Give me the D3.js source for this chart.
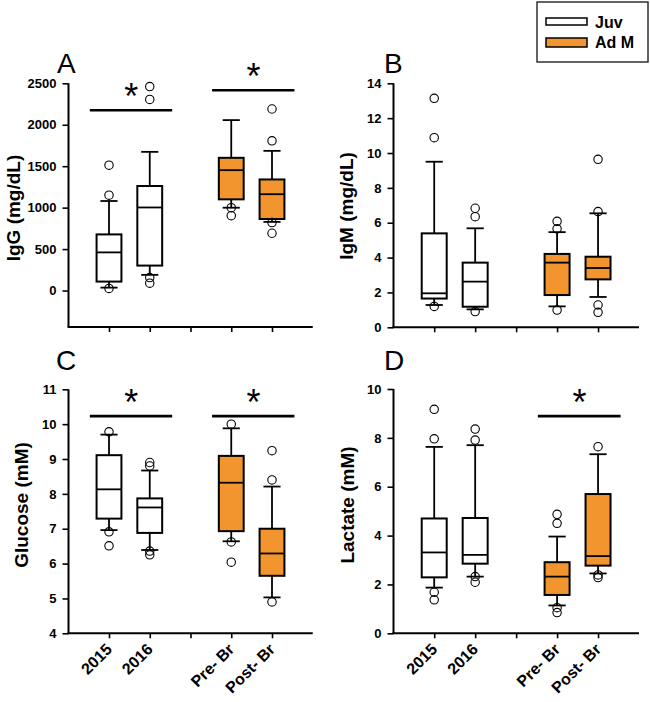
<!DOCTYPE html>
<html>
<head>
<meta charset="utf-8">
<script src="https://cdn.jsdelivr.net/npm/d3@7/dist/d3.min.js"></script>
<style>
  html, body { margin: 0; padding: 0; background: #fff; }
  svg { display: block; font-family: Arial, "Liberation Sans", sans-serif; }
</style>
</head>
<body>
<svg id="chart" width="650" height="702"></svg>
<script>
// ---------- data ----------
const categories = ["2015", "2016", "Pre- Br", "Post- Br"];
const positions = [1, 2, 4, 5];
const groups = ["Juv", "Juv", "Ad M", "Ad M"];
const legendLabels = ["Juv", "Ad M"];

// IgG (mg/dL)
const iggQ1 = [108, 301, 1100, 863];
const iggMed = [460, 1002, 1452, 1162];
const iggQ3 = [677, 1261, 1601, 1340];
const iggLo = [35, 189, 999, 828];
const iggHi = [1080, 1673, 2056, 1685];
const iggOut = [[1512, 1150, 25], [2460, 2306, 156, 89], [999, 903], [2190, 1806, 820, 691]];
const iggTicks = [0, 500, 1000, 1500, 2000, 2500];

// IgM (mg/dL)
const igmQ1 = [1.65, 1.18, 1.85, 2.75];
const igmMed = [1.95, 2.62, 3.71, 3.40];
const igmQ3 = [5.39, 3.71, 4.21, 4.05];
const igmLo = [1.28, 1.03, 1.20, 1.74];
const igmHi = [9.5, 5.68, 5.46, 6.54];
const igmOut = [[13.14, 10.88, 1.2], [6.83, 6.35, 0.9], [6.08, 5.65, 0.99], [9.64, 6.64, 1.28, 0.86]];
const igmTicks = [0, 2, 4, 6, 8, 10, 12, 14];

// Glucose (mM)
const gluQ1 = [7.29, 6.88, 6.93, 5.65];
const gluMed = [8.13, 7.61, 8.32, 6.29];
const gluQ3 = [9.11, 7.87, 9.09, 7.0];
const gluLo = [6.96, 6.39, 6.64, 5.03];
const gluHi = [9.70, 8.67, 9.88, 8.21];
const gluOut = [[9.78, 6.91, 6.51], [8.90, 8.80, 6.36, 6.25], [10.0, 6.62, 6.04], [9.24, 8.40, 4.90]];
const gluTicks = [4, 5, 6, 7, 8, 9, 10, 11];

// Lactate (mM)
const lacQ1 = [2.29, 2.85, 1.57, 2.77];
const lacMed = [3.31, 3.21, 2.32, 3.16];
const lacQ3 = [4.70, 4.72, 2.91, 5.70];
const lacLo = [1.87, 2.32, 1.14, 2.45];
const lacHi = [7.63, 7.70, 3.96, 7.33];
const lacOut = [[9.17, 7.96, 1.68, 1.37], [8.36, 7.91, 2.32, 2.09], [4.87, 4.50, 1.05, 0.85], [7.64, 2.39, 2.28]];
const lacTicks = [0, 2, 4, 6, 8, 10];

// significance bars: [from position, to position, level in data units]
const iggSig = [[1, 2, 2175], [4, 5, 2416]];
const igmSig = [];
const gluSig = [[1, 2, 10.23], [4, 5, 10.23]];
const lacSig = [[4, 5, 8.89]];

// ---------- drawing ----------
const ORANGE = "#F2952F";
const colorOf = d3.scaleOrdinal().domain(legendLabels).range(["#ffffff", ORANGE]);
const svg = d3.select("#chart");

const panels = [
  { letter: "A", title: "IgG (mg/dL)", q1: iggQ1, med: iggMed, q3: iggQ3, lo: iggLo, hi: iggHi, out: iggOut,
    ticks: iggTicks, domain: [-440, 2500], sig: iggSig, showX: false,
    x0: 68.5, x1: 312.75, yTop: 83.3, yBot: 327, labelX: 20, labelY: 208, letterX: 57, letterY: 73 },
  { letter: "B", title: "IgM (mg/dL)", q1: igmQ1, med: igmMed, q3: igmQ3, lo: igmLo, hi: igmHi, out: igmOut,
    ticks: igmTicks, domain: [0, 14], sig: igmSig, showX: false,
    x0: 393.5, x1: 639, yTop: 83.3, yBot: 327.3, labelX: 353, labelY: 206, letterX: 384, letterY: 73 },
  { letter: "C", title: "Glucose (mM)", q1: gluQ1, med: gluMed, q3: gluQ3, lo: gluLo, hi: gluHi, out: gluOut,
    ticks: gluTicks, domain: [4, 11], sig: gluSig, showX: true,
    x0: 68.5, x1: 312.75, yTop: 389.3, yBot: 633.3, labelX: 28, labelY: 505, letterX: 56, letterY: 370 },
  { letter: "D", title: "Lactate (mM)", q1: lacQ1, med: lacMed, q3: lacQ3, lo: lacLo, hi: lacHi, out: lacOut,
    ticks: lacTicks, domain: [0, 10], sig: lacSig, showX: true,
    x0: 393.5, x1: 639, yTop: 389, yBot: 633.3, labelX: 354, labelY: 505, letterX: 384, letterY: 370 }
];

panels.forEach(p => {
  const g = svg.append("g");
  // x scale: linear over slot positions 0..6
  const xs = d3.scaleLinear().domain([0, 6]).range([p.x0 - 0.25, p.x1]);
  const ys = d3.scaleLinear().domain(p.domain).range([p.yBot, p.yTop]);
  const unit = xs(1) - xs(0);
  const boxW = 0.61 * unit, capW = 0.42 * unit;

  // axes
  const yAxis = d3.axisLeft(ys).tickValues(p.ticks).tickFormat(d3.format("d"))
    .tickSize(6).tickSizeOuter(0).tickPadding(6);
  const ya = g.append("g").attr("transform", `translate(${p.x0},0)`).call(yAxis);
  ya.select(".domain").attr("stroke", "#000").attr("stroke-width", 2).attr("d", `M0,${p.yTop}V${p.yBot}`);
  ya.selectAll(".tick line").attr("stroke", "#000").attr("stroke-width", 1.6);
  ya.selectAll(".tick text").attr("font-size", 13).attr("font-weight", "bold").attr("fill", "#000")
    .attr("font-family", "Arial, 'Liberation Sans', sans-serif");

  const xAxis = d3.axisBottom(xs).tickValues([1, 2, 3, 4, 5]).tickSize(5).tickSizeOuter(0)
    .tickFormat(() => "");
  const xa = g.append("g").attr("transform", `translate(0,${p.yBot})`).call(xAxis);
  xa.select(".domain").attr("stroke", "#000").attr("stroke-width", 2).attr("d", `M${p.x0 - 1},0H${p.x1}`);
  xa.selectAll(".tick line").attr("stroke", "#000").attr("stroke-width", 1.6);

  if (p.showX) {
    g.selectAll("text.xlab").data(categories).join("text")
      .attr("class", "xlab")
      .attr("transform", (d, i) => `translate(${xs(positions[i]) + 4},${p.yBot + 17}) rotate(-45)`)
      .attr("text-anchor", "end")
      .attr("font-size", 16).attr("font-weight", "bold")
      .text(d => d);
  }

  // axis title
  g.append("text")
    .attr("transform", `translate(${p.labelX},${p.labelY}) rotate(-90)`)
    .attr("text-anchor", "middle")
    .attr("font-size", 19).attr("font-weight", "bold")
    .text(p.title);

  // panel letter
  g.append("text").attr("x", p.letterX).attr("y", p.letterY)
    .attr("font-size", 28).text(p.letter);

  // boxes
  const rows = categories.map((c, i) => ({
    c, pos: positions[i], grp: groups[i], q1: p.q1[i], med: p.med[i], q3: p.q3[i],
    lo: p.lo[i], hi: p.hi[i], out: p.out[i]
  }));
  const bg = g.selectAll("g.box").data(rows).join("g").attr("class", "box");
  // whiskers
  bg.append("line").attr("x1", d => xs(d.pos)).attr("x2", d => xs(d.pos))
    .attr("y1", d => ys(d.q3)).attr("y2", d => ys(d.hi)).attr("stroke", "#000").attr("stroke-width", 1.8);
  bg.append("line").attr("x1", d => xs(d.pos)).attr("x2", d => xs(d.pos))
    .attr("y1", d => ys(d.q1)).attr("y2", d => ys(d.lo)).attr("stroke", "#000").attr("stroke-width", 1.8);
  bg.append("line").attr("x1", d => xs(d.pos) - capW / 2).attr("x2", d => xs(d.pos) + capW / 2)
    .attr("y1", d => ys(d.hi)).attr("y2", d => ys(d.hi)).attr("stroke", "#000").attr("stroke-width", 1.8);
  bg.append("line").attr("x1", d => xs(d.pos) - capW / 2).attr("x2", d => xs(d.pos) + capW / 2)
    .attr("y1", d => ys(d.lo)).attr("y2", d => ys(d.lo)).attr("stroke", "#000").attr("stroke-width", 1.8);
  // box
  bg.append("rect").attr("x", d => xs(d.pos) - boxW / 2).attr("width", boxW)
    .attr("y", d => ys(d.q3)).attr("height", d => ys(d.q1) - ys(d.q3))
    .attr("fill", d => colorOf(d.grp)).attr("stroke", "#000").attr("stroke-width", 2);
  bg.append("line").attr("x1", d => xs(d.pos) - boxW / 2).attr("x2", d => xs(d.pos) + boxW / 2)
    .attr("y1", d => ys(d.med)).attr("y2", d => ys(d.med)).attr("stroke", "#000").attr("stroke-width", 1.8);
  // outliers
  bg.selectAll("circle").data(d => d.out.map(v => ({ pos: d.pos, v }))).join("circle")
    .attr("cx", d => xs(d.pos)).attr("cy", d => ys(d.v)).attr("r", 4.2)
    .attr("fill", "none").attr("stroke", "#000").attr("stroke-width", 1.1);

  // significance
  p.sig.forEach(s => {
    const yb = ys(s[2]);
    g.append("line").attr("x1", xs(s[0] - 0.47)).attr("x2", xs(s[1] + 0.55))
      .attr("y1", yb).attr("y2", yb).attr("stroke", "#000").attr("stroke-width", 2.6);
    g.append("text").attr("x", xs((s[0] + s[1]) / 2) + 2).attr("y", yb - 1)
      .attr("text-anchor", "middle").attr("font-size", 36).text("*");
  });
});

// legend
const lg = svg.append("g");
lg.append("rect").attr("x", 537).attr("y", 2).attr("width", 111).attr("height", 60)
  .attr("fill", "#fff").attr("stroke", "#222").attr("stroke-width", 1.4);
legendLabels.forEach((l, i) => {
  lg.append("rect").attr("x", 546).attr("y", i === 0 ? 18 : 38).attr("width", 41).attr("height", i === 0 ? 7 : 9)
    .attr("fill", colorOf(l)).attr("stroke", "#000").attr("stroke-width", 1.5);
  lg.append("text").attr("x", 595).attr("y", i === 0 ? 28 : 48)
    .attr("font-size", 16).attr("font-weight", "bold").text(l);
});
</script>
</body>
</html>
